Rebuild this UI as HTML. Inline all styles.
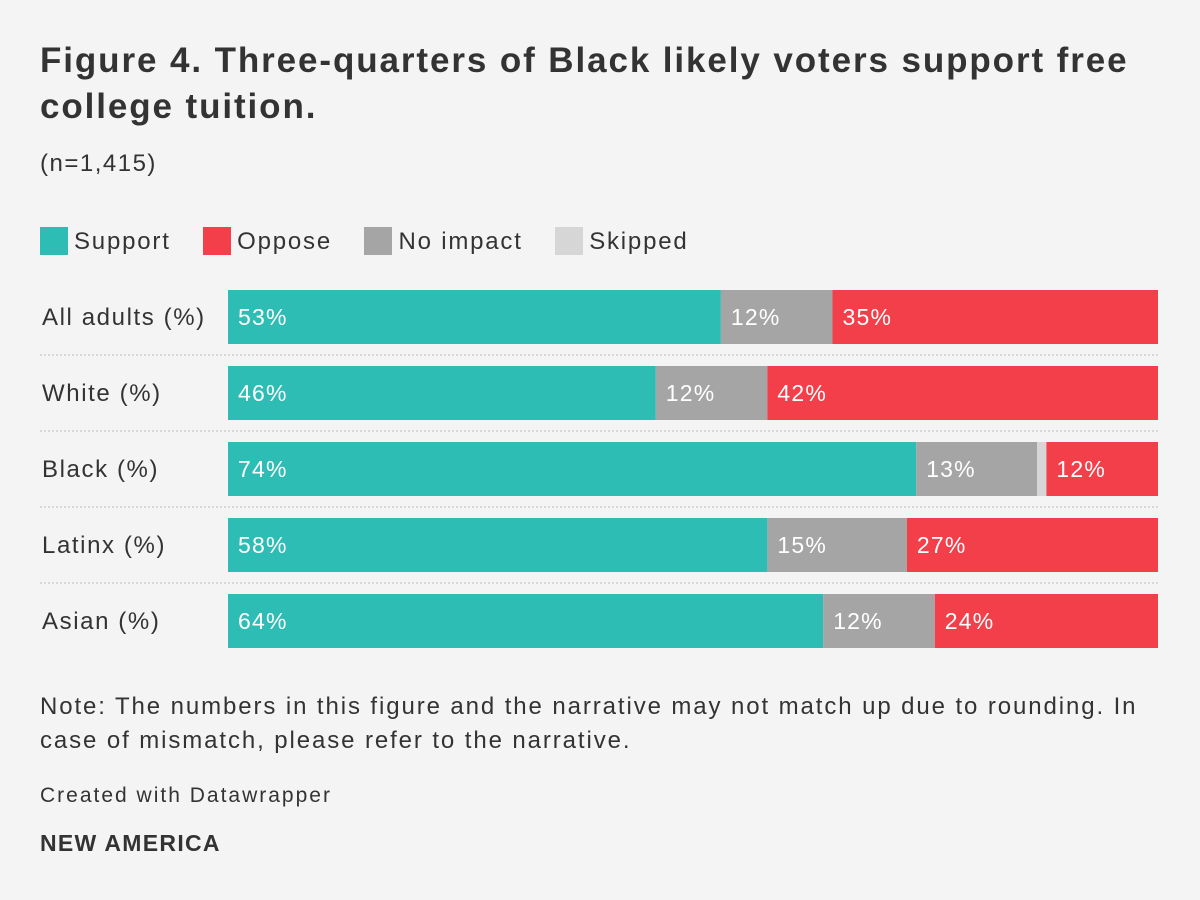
<!DOCTYPE html>
<html><head><meta charset="utf-8"><style>
body{margin:0;background:#f4f4f4;font-family:"Liberation Sans",sans-serif;color:#333;}
#wrap{position:relative;width:1200px;height:900px;overflow:hidden;}
.t{position:absolute;white-space:nowrap;}
</style></head><body>
<div id="wrap">
<div class="t" style="left:40px;top:38px;font-size:35px;font-weight:bold;line-height:46px;color:#333;letter-spacing:1.9px;">Figure 4. Three-quarters of Black likely voters support free<br>college tuition.</div>
<div class="t" style="left:40px;top:150px;font-size:24px;letter-spacing:1.5px;">(n=1,415)</div>
<div class="t" style="left:40px;top:227px;font-size:24px;line-height:30px;letter-spacing:1.8px;">
<span><span style="display:inline-block;width:28px;height:28px;background:#2ebdb4;vertical-align:-6px;margin-right:6px"></span>Support</span>
<span style="margin-left:24px"><span style="display:inline-block;width:28px;height:28px;background:#f33f4a;vertical-align:-6px;margin-right:6px"></span>Oppose</span>
<span style="margin-left:24px"><span style="display:inline-block;width:28px;height:28px;background:#a5a5a5;vertical-align:-6px;margin-right:6px"></span>No impact</span>
<span style="margin-left:24px"><span style="display:inline-block;width:28px;height:28px;background:#d6d6d6;vertical-align:-6px;margin-right:6px"></span>Skipped</span>
</div>
<svg id="plot" width="1200" height="900" style="position:absolute;left:0;top:0"></svg>
<div class="t" style="left:40px;top:690px;font-size:24px;line-height:34px;letter-spacing:1.9px;">Note: The numbers in this figure and the narrative may not match up due to rounding. In<br>case of mismatch, please refer to the narrative.</div>
<div class="t" style="left:40px;top:784px;font-size:21px;letter-spacing:2px;">Created with Datawrapper</div>
<div class="t" style="left:40px;top:830px;font-size:23px;font-weight:bold;letter-spacing:1.3px;">NEW AMERICA</div>
</div>
<script>
const categories=["All adults (%)","White (%)","Black (%)","Latinx (%)","Asian (%)"];
const support=[53,46,74,58,64];
const noImpact=[12,12,13,15,12];
const skipped=[0,0,1,0,0];
const oppose=[35,42,12,27,24];
const series=[["support",support,"#2ebdb4"],["no-impact",noImpact,"#a5a5a5"],["skipped",skipped,"#d6d6d6"],["oppose",oppose,"#f33f4a"]];
const NS="http://www.w3.org/2000/svg";
const svg=document.getElementById("plot");
const x0=228,x1=1158,top0=290,pitch=76,bh=54;
const xs=v=>x0+v/100*(x1-x0);
const ys=i=>top0+i*pitch;
categories.forEach((c,i)=>{
  const y=ys(i);
  const lab=document.createElementNS(NS,"text");
  lab.setAttribute("x",42);lab.setAttribute("y",y+bh/2+8);
  lab.setAttribute("font-size","24");lab.setAttribute("fill","#333");
  lab.setAttribute("letter-spacing","1.6");
  lab.setAttribute("font-family","Liberation Sans, sans-serif");
  lab.textContent=c;
  
  
  svg.appendChild(lab);
  if(i<categories.length-1){
    const ln=document.createElementNS(NS,"line");
    ln.setAttribute("x1",40);ln.setAttribute("x2",x1);
    ln.setAttribute("y1",y+bh+11);ln.setAttribute("y2",y+bh+11);
    ln.setAttribute("stroke","#bbb");ln.setAttribute("stroke-dasharray","2,2");
    
    
    svg.appendChild(ln);
  }
  let cum=0;
  series.forEach(([name,arr,col])=>{
    const v=arr[i];
    if(v<=0)return;
    const r=document.createElementNS(NS,"rect");
    r.setAttribute("x",xs(cum));r.setAttribute("y",y);
    r.setAttribute("width",xs(cum+v)-xs(cum));r.setAttribute("height",bh);
    r.setAttribute("fill",col);
    
    
    svg.appendChild(r);
    if(v>=5){
      const t=document.createElementNS(NS,"text");
      t.setAttribute("x",xs(cum)+10);t.setAttribute("y",y+bh/2+8);
      t.setAttribute("font-size","23");t.setAttribute("fill","#fff");
      t.setAttribute("letter-spacing","1.2");
      t.setAttribute("font-family","Liberation Sans, sans-serif");
      t.textContent=v+"%";
      
      
      svg.appendChild(t);
    }
    cum+=v;
  });
});
</script>
</body></html>
